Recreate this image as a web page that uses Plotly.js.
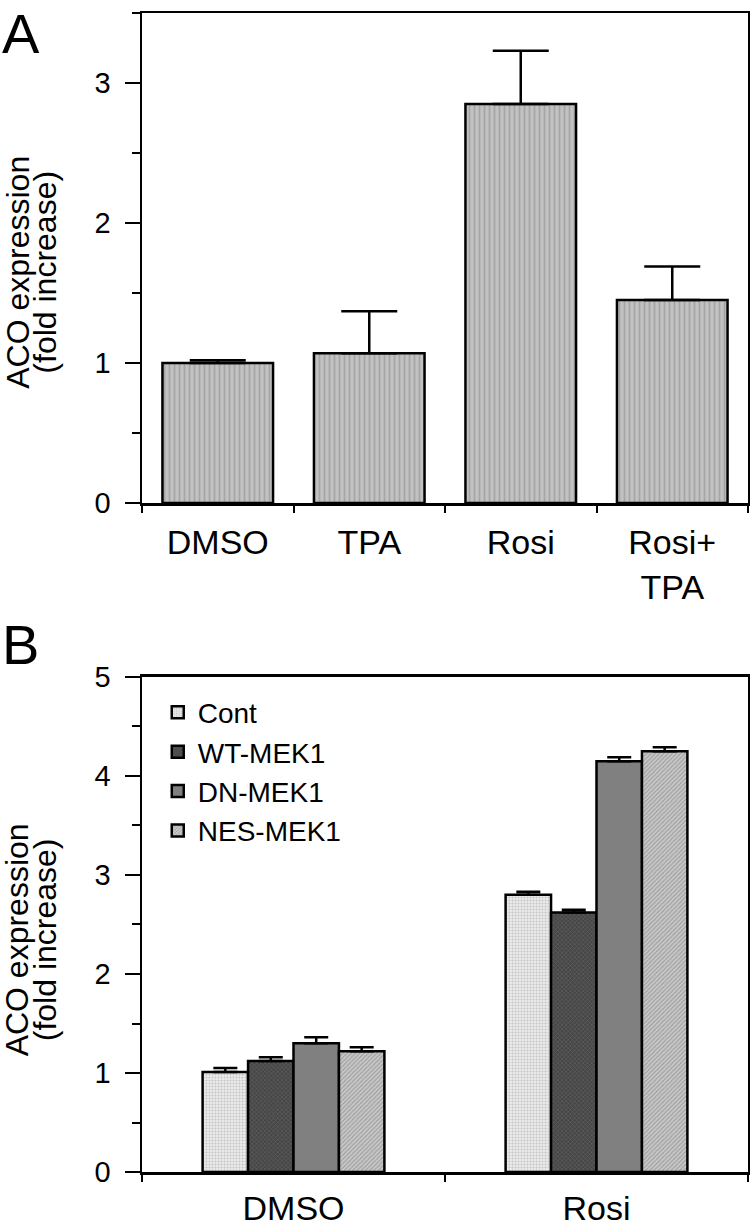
<!DOCTYPE html>
<html><head><meta charset="utf-8">
<script src="https://cdn.plot.ly/plotly-3.0.1.min.js"></script>
<style>html,body{margin:0;padding:0;background:#fff}</style>
</head><body><div id="chart" style="width:750px;height:1226px"></div>
<script>
// Panel A
const catsA = ['DMSO', 'TPA', 'Rosi', 'Rosi+<br>TPA'];
const valsA = [1.00, 1.07, 2.85, 1.45];
const errA  = [0.02, 0.30, 0.38, 0.24];
const zeroA = [0, 0, 0, 0];

// Panel B
const catsB = ['DMSO', 'Rosi'];
const namesB = ['Cont', 'WT-MEK1', 'DN-MEK1', 'NES-MEK1'];
const valsCont = [1.01, 2.80];
const errCont  = [0.04, 0.03];
const valsWT   = [1.12, 2.62];
const errWT    = [0.04, 0.03];
const valsDN   = [1.30, 4.15];
const errDN    = [0.06, 0.04];
const valsNES  = [1.22, 4.25];
const errNES   = [0.04, 0.04];
const zeroB = [0, 0];

// Axis title lines
const yTitle1 = 'ACO expression';
const yTitle2 = '(fold increase)';

const FONT = 'Liberation Sans, Arial, Helvetica, sans-serif';
const lineW = 2.5;

function errBar(arr, zeros, w) {
  return {type: 'data', array: arr, arrayminus: zeros, symmetric: false,
          color: '#000', thickness: lineW, width: w, visible: true};
}

const traceA = {
  type: 'bar', x: catsA, y: valsA, xaxis: 'x', yaxis: 'y', width: 0.73,
  showlegend: false, hoverinfo: 'skip',
  marker: {color: '#bdbdbd', line: {color: '#000', width: lineW},
           pattern: {shape: '|', bgcolor: '#c2c2c2', fgcolor: '#a6a6a6', size: 5, solidity: 0.35, fillmode: 'replace'}},
  error_y: errBar(errA, zeroA, 28)
};

const stylesB = [
  {color: '#e6e6e6', pattern: {shape: '.', bgcolor: '#ebebeb', fgcolor: '#c4c4c4', size: 3, solidity: 0.35, fillmode: 'replace'}},
  {color: '#4a4a4a', pattern: {shape: 'x', bgcolor: '#464646', fgcolor: '#686868', size: 3, solidity: 0.3, fillmode: 'replace'}},
  {color: '#808080'},
  {color: '#c2c2c2', pattern: {shape: '/', bgcolor: '#c8c8c8', fgcolor: '#9c9c9c', size: 3, solidity: 0.35, fillmode: 'replace'}}
];
const valsB = [valsCont, valsWT, valsDN, valsNES];
const errsB = [errCont, errWT, errDN, errNES];

const tracesB = namesB.map((n, i) => ({
  type: 'bar', name: n, x: catsB, y: valsB[i], xaxis: 'x2', yaxis: 'y2',
  hoverinfo: 'skip',
  marker: Object.assign({line: {color: '#000', width: lineW}}, stylesB[i]),
  error_y: errBar(errsB[i], zeroB, 12)
}));

const axisCommon = {
  showline: true, linecolor: '#000', linewidth: lineW, mirror: true,
  showgrid: false, zeroline: false, ticks: 'outside', tickcolor: '#000', tickwidth: 2,
  fixedrange: true
};

const titleFont = {family: FONT, size: 32, color: '#000'};
function titleAnn(text, x, y) {
  return {text: text, xref: 'paper', yref: 'paper', x: x, y: y, xanchor: 'center', yanchor: 'middle',
          textangle: -90, showarrow: false, font: titleFont};
}

const layout = {
  width: 750, height: 1226,
  paper_bgcolor: '#fff', plot_bgcolor: '#fff',
  margin: {l: 142, r: 2, t: 13, b: 54},
  font: {family: FONT, color: '#000', size: 28},
  barmode: 'group', bargap: 0.4, bargroupgap: 0,
  showlegend: true,
  legend: {x: 0.026, y: 0.418, xanchor: 'left', yanchor: 'top', bgcolor: 'rgba(0,0,0,0)',
           font: {family: FONT, size: 28, color: '#000'}, tracegroupgap: 0, itemclick: false},
  xaxis: Object.assign({}, axisCommon, {
    domain: [0, 1], anchor: 'y', type: 'category', tickson: 'boundaries', ticklen: 7,
    tickfont: {family: FONT, size: 34}, ticklabelstandoff: 8
  }),
  yaxis: Object.assign({}, axisCommon, {
    domain: [0.5772, 1], anchor: 'x', range: [0, 3.5], tickvals: [0, 1, 2, 3], ticklen: 15,
    tickfont: {family: FONT, size: 29}, ticklabelstandoff: 8,
    minor: {ticks: 'outside', ticklen: 8, tickwidth: 2, tickcolor: '#000', dtick: 0.5, tick0: 0}
  }),
  xaxis2: Object.assign({}, axisCommon, {
    domain: [0, 1], anchor: 'y2', type: 'category', tickson: 'boundaries', ticklen: 7,
    tickfont: {family: FONT, size: 34}, ticklabelstandoff: 5
  }),
  yaxis2: Object.assign({}, axisCommon, {
    domain: [0, 0.4271], anchor: 'x2', range: [0, 5], tickvals: [0, 1, 2, 3, 4, 5], ticklen: 15,
    tickfont: {family: FONT, size: 29}, ticklabelstandoff: 8,
    minor: {ticks: 'outside', ticklen: 8, tickwidth: 2, tickcolor: '#000', dtick: 0.5, tick0: 0}
  }),
  annotations: [
    {text: 'A', xref: 'paper', yref: 'paper', x: -0.234, y: 1.011, xanchor: 'left', yanchor: 'top',
     showarrow: false, font: {family: FONT, size: 56, color: '#000'}},
    {text: 'B', xref: 'paper', yref: 'paper', x: -0.234, y: 0.484, xanchor: 'left', yanchor: 'top',
     showarrow: false, font: {family: FONT, size: 56, color: '#000'}},
    titleAnn(yTitle1, -0.206, 0.776),
    titleAnn(yTitle2, -0.160, 0.776),
    titleAnn(yTitle1, -0.206, 0.200),
    titleAnn(yTitle2, -0.160, 0.200)
  ]
};

Plotly.newPlot('chart', [traceA].concat(tracesB), layout, {displayModeBar: false, staticPlot: true});
</script>
</body></html>
